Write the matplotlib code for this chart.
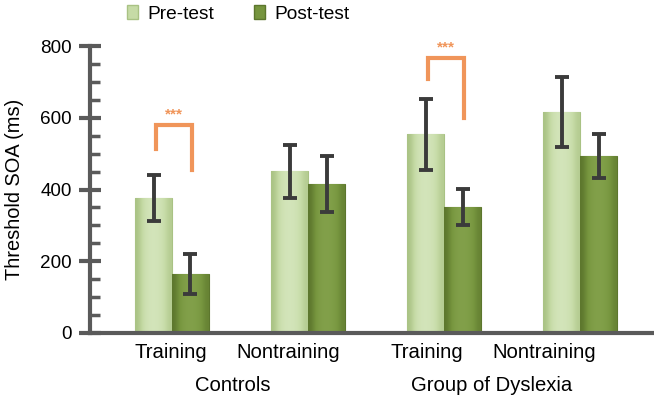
import numpy as np
import matplotlib.pyplot as plt
from matplotlib.patches import Patch

# ---------------- data ----------------
conditions = ["Training", "Nontraining", "Training", "Nontraining"]
groups = ["Controls", "Group of Dyslexia"]
pre_test = [376, 451, 554, 616]
pre_err = [65, 74, 99, 98]
post_test = [164, 415, 351, 493]
post_err = [56, 78, 50, 61]

# significance brackets: (group index, left leg bottom, top, right leg bottom)
sig_brackets = [(0, 513, 579, 454), (2, 708, 766, 599)]

plt.rcParams["font.family"] = ["Liberation Sans", "DejaVu Sans"]

pre_color = "#c6dba6"
post_color = "#76953e"
err_color = "#3b3b3b"
sig_color = "#f0955a"
axis_color = "#5a5a5a"

fig = plt.figure(figsize=(6.54, 4.05), dpi=100)
ax = fig.add_axes([0.1376, 0.178, 0.8624, 0.708])

x = np.arange(len(conditions))
w = 0.272


def shaded_bar(xc, h, base, dark, light):
    # one bar with a soft horizontal gradient for the bevel look
    rect = ax.bar(xc, h, width=w, color=base, edgecolor=dark, linewidth=0.8, zorder=2)[0]
    grad = np.array([[0.0, 0.55, 0.75, 0.8, 0.75, 0.6, 0.2]])
    cmap = plt.matplotlib.colors.LinearSegmentedColormap.from_list("g", [dark, base, light])
    im = ax.imshow(grad, extent=[xc - w / 2, xc + w / 2, 0, h], aspect="auto",
                   cmap=cmap, vmin=0, vmax=1, zorder=2.1, interpolation="bicubic")
    im.set_clip_path(rect)


for i in range(len(conditions)):
    shaded_bar(x[i] - w / 2, pre_test[i], pre_color, "#a9c284", "#dcebc8")
    shaded_bar(x[i] + w / 2, post_test[i], post_color, "#5c762d", "#8aa852")

ax.errorbar(x - w / 2, pre_test, yerr=pre_err, fmt="none", ecolor=err_color,
            elinewidth=2.8, capsize=5, capthick=2.8, zorder=3)
ax.errorbar(x + w / 2, post_test, yerr=post_err, fmt="none", ecolor=err_color,
            elinewidth=2.8, capsize=5, capthick=2.8, zorder=3)

for gi, left, top, right in sig_brackets:
    xl = x[gi] - w / 2 + 0.02
    xr = x[gi] + w / 2 + 0.01
    ax.plot([xl, xl, xr, xr], [left, top, top, right], color=sig_color,
            linewidth=3, solid_joinstyle="miter", clip_on=False, zorder=4)
    ax.text((xl + xr) / 2, top + 12, "***", color=sig_color, ha="center",
            va="bottom", fontsize=11, fontweight="bold")

ax.set_xlim(-0.603, 3.544)
ax.set_ylim(0, 800)
ax.set_yticks([0, 200, 400, 600, 800])
ax.set_yticks(np.arange(0, 801, 50), minor=True)
ax.tick_params(axis="y", which="major", direction="inout", length=16, width=3,
               color=axis_color, labelsize=13.6, pad=5)
ax.tick_params(axis="y", which="minor", direction="in", length=7, width=2.5,
               color=axis_color)
ax.set_xticks([])
for s in ["top", "right"]:
    ax.spines[s].set_visible(False)
for s in ["left", "bottom"]:
    ax.spines[s].set_color(axis_color)
    ax.spines[s].set_linewidth(3)
ax.set_ylabel("Threshold SOA (ms)", fontsize=14.4, labelpad=12)

# category labels (placed as in the original, slightly left of bar pairs)
label_x = [-0.01, 0.853, 1.875, 2.735]
for lx, name in zip(label_x, conditions):
    ax.text(lx, -0.035, name, transform=ax.get_xaxis_transform(), ha="center",
            va="top", fontsize=14.6)
group_x = [0.45, 2.35]
for gx, name in zip(group_x, groups):
    ax.text(gx, -0.15, name, transform=ax.get_xaxis_transform(), ha="center",
            va="top", fontsize=14.6)

handles = [Patch(facecolor=pre_color, edgecolor="#a9c284"),
           Patch(facecolor=post_color, edgecolor="#5c762d")]
fig.legend(handles, ["Pre-test", "Post-test"], loc="upper left",
           bbox_to_anchor=(0.168, 1.03), ncol=2, frameon=False, fontsize=13.8,
           handlelength=0.55, handleheight=0.75, handletextpad=0.5, columnspacing=2.1)

fig.savefig("out.png", dpi=100)
